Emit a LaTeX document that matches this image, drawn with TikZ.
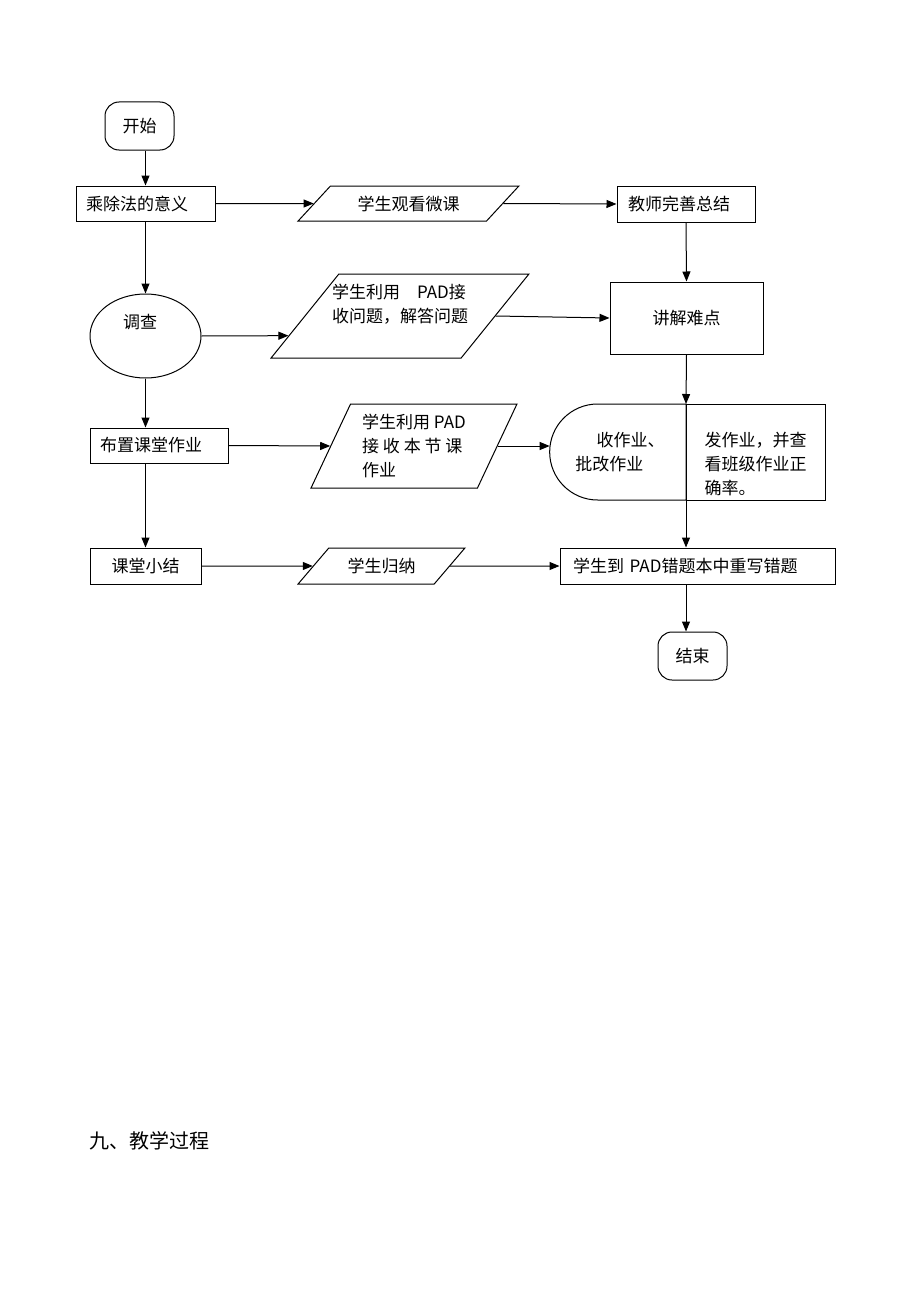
\documentclass[tikz,border=0pt]{standalone}
\usepackage{fontspec}
\setmainfont{Noto Sans CJK SC}
\usetikzlibrary{arrows.meta,shapes.geometric,shapes.misc}

\begin{document}
\begin{tikzpicture}[x=1pt,y=-1pt,line width=1pt,
		every node/.style={font=\fontsize{17}{24}\selectfont},
		>={Triangle[length=10pt,width=8pt]},
		startstop/.style={draw,rectangle,rounded corners=14pt,minimum width=69pt,minimum height=48pt},
		proc/.style={draw,rectangle,minimum height=36pt,inner xsep=10pt,align=left},
		io/.style={draw,trapezium,trapezium stretches=true},
		txt/.style={align=left,inner sep=0pt}]
	\fill[white] (0,0) rectangle (920,1303);
	\useasboundingbox (0,0) rectangle (920,1303);

	\node[startstop] (kaishi) at (139.5,126) {开始};
	\node[proc,minimum height=35pt,text width=119pt] (yiyi) at (145.5,203.5) {乘除法的意义};
	\node[io,trapezium left angle=45,trapezium right angle=135,minimum width=221pt,minimum height=35pt] (guankan) at (408.5,203.5) {学生观看微课};
	\node[proc,inner xsep=11pt,text width=116pt] (jiaoshi) at (686,204) {教师完善总结};
	\node[draw,rectangle,minimum width=153pt,minimum height=72pt] (jiangjie) at (686.5,318) {讲解难点};

	\node[draw,ellipse,minimum width=111pt,minimum height=84pt] (diaocha) at (145.5,336) {};
	\node[txt] (diaochaTxt) at (140,322) {调查};
	\node[io,trapezium left angle=61,trapezium right angle=119,minimum width=258pt,minimum height=84pt] (jieshou) at (400,316) {};
	\node[txt] (jieshouTxt) at (400,304) {学生利用\quad PAD接\\收问题，解答问题};

	\node[proc,minimum height=35pt,text width=118pt] (buzhi) at (159,445.5) {布置课堂作业};
	\node[io,trapezium left angle=64,trapezium right angle=116,minimum width=206pt,minimum height=84pt,align=left] (zuoye) at (414,446) {学生利用 PAD\\接 收 本 节 课\\作业};
	\node[draw,rectangle,outer sep=0pt,minimum width=139pt,minimum height=96pt] (fa) at (755.5,452) {};
	\node[txt] (faTxt) at (755.5,464) {发作业，并查\\看班级作业正\\确率。};
	\node[draw,rounded rectangle,rounded rectangle right arc=none,outer sep=0pt,minimum width=143pt,minimum height=96pt,align=left,anchor=east] (shou) at (fa.west) {\hspace*{1.25em}收作业、\\批改作业};

	\node[draw,rectangle,minimum width=111pt,minimum height=36pt] (xiaojie) at (145.5,566) {课堂小结};
	\node[io,trapezium left angle=46,trapezium right angle=134,minimum width=167pt,minimum height=36pt] (guina) at (381.5,566) {学生归纳};
	\node[proc,inner xsep=13pt,text width=249pt] (cuoti) at (697.5,566) {学生到 PAD错题本中重写错题};
	\node[startstop] (jieshu) at (692.5,656) {结束};

	\node[anchor=west,font=\fontsize{20}{24}\selectfont] (jiaoxue) at (86,1141) {九、教学过程};

	\path[->]
	(yiyi.north |- kaishi.south) edge (yiyi.north)
	(yiyi.east) edge (guankan.west)
	(guankan.east) edge (jiaoshi.west)
	(jiaoshi.south) edge (jiangjie.north)
	(yiyi.south) edge (yiyi.south |- diaocha.north)
	(diaocha.east) edge (jieshou.190)
	(jieshou.east) edge (jiangjie.west)
	(jiangjie.south) edge (fa.north west)
	(diaocha.south) edge (diaocha.south |- buzhi.north)
	(buzhi.east) edge (zuoye.west)
	(zuoye.east) edge (zuoye.east -| shou.west)
	(fa.north west) edge (fa.north west |- cuoti.north)
	(xiaojie.north |- buzhi.south) edge (xiaojie.north)
	(xiaojie.east) edge (guina.west)
	(guina.east) edge (cuoti.west)
	(fa.west |- cuoti.south) edge (fa.west |- jieshu.north);
\end{tikzpicture}
\end{document}
